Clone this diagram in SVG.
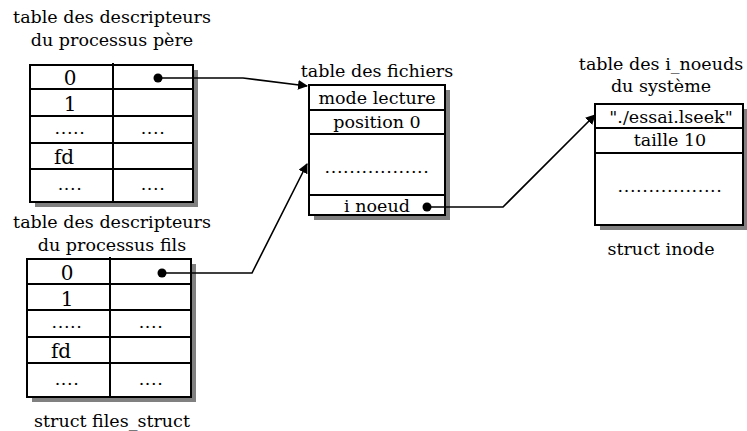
<svg xmlns="http://www.w3.org/2000/svg" width="747" height="431" viewBox="0 0 747 431">
<defs>
<style>
text{font-family:"DejaVu Serif","Liberation Serif",serif;font-size:17.5px;fill:#000;text-anchor:middle}
.c{font-size:20px}
.d{letter-spacing:0.6px}
.box{fill:#fff;stroke:#000;stroke-width:2}
.sh{fill:#808080}
.ln{stroke:#000;stroke-width:2;fill:none}
.conn{stroke:#000;stroke-width:1.6;fill:none}
</style>
<marker id="ah" markerWidth="10" markerHeight="10" refX="9" refY="5" orient="auto" markerUnits="userSpaceOnUse">
<path d="M0,0 L10,5 L0,10 Z" fill="#000"/>
</marker>
</defs>
<g id="pere">
<text x="112" y="23">table des descripteurs</text>
<text x="112" y="46">du processus père</text>
<rect class="sh" x="35" y="70" width="163" height="137"/>
<rect class="box" x="30" y="65" width="163" height="137"/>
<line class="ln" x1="113" y1="63" x2="113" y2="202"/>
<line class="ln" x1="30" y1="89" x2="193" y2="89"/>
<line class="ln" x1="30" y1="116" x2="193" y2="116"/>
<line class="ln" x1="30" y1="143" x2="193" y2="143"/>
<line class="ln" x1="30" y1="169" x2="193" y2="169"/>
<text class="c" x="70" y="85">0</text>
<text class="c" x="70" y="111">1</text>
<text class="d" x="70" y="134">.....</text>
<text class="d" x="153" y="134">....</text>
<text class="c" x="64" y="164">fd</text>
<text class="d" x="70" y="190">....</text>
<text class="d" x="153" y="190">....</text>
</g>
<g id="fils">
<text x="112" y="228">table des descripteurs</text>
<text x="112" y="251">du processus fils</text>
<rect class="sh" x="32" y="264" width="164" height="138"/>
<rect class="box" x="27" y="259" width="164" height="138"/>
<line class="ln" x1="110" y1="257" x2="110" y2="397"/>
<line class="ln" x1="27" y1="284" x2="191" y2="284"/>
<line class="ln" x1="27" y1="310" x2="191" y2="310"/>
<line class="ln" x1="27" y1="337" x2="191" y2="337"/>
<line class="ln" x1="27" y1="363" x2="191" y2="363"/>
<text class="c" x="67" y="280">0</text>
<text class="c" x="67" y="306">1</text>
<text class="d" x="67" y="328">.....</text>
<text class="d" x="151" y="328">....</text>
<text class="c" x="61" y="358">fd</text>
<text class="d" x="67" y="385">....</text>
<text class="d" x="151" y="385">....</text>
<text x="112" y="427">struct files_struct</text>
</g>
<g id="fichiers">
<text x="377" y="77">table des fichiers</text>
<rect class="sh" x="314" y="90" width="136" height="130"/>
<rect class="box" x="309" y="85" width="136" height="130"/>
<line class="ln" x1="309" y1="110" x2="445" y2="110"/>
<line class="ln" x1="309" y1="134" x2="445" y2="134"/>
<line class="ln" x1="309" y1="195" x2="445" y2="195"/>
<text x="377" y="104">mode lecture</text>
<text x="377" y="128">position 0</text>
<text class="d" x="377" y="173">.................</text>
<text x="377" y="212">i noeud</text>
</g>
<g id="inode">
<text x="661" y="70">table des i_noeuds</text>
<text x="661" y="92">du système</text>
<rect class="sh" x="600" y="109" width="148" height="121"/>
<rect class="box" x="595" y="104" width="148" height="121"/>
<line class="ln" x1="595" y1="128" x2="743" y2="128"/>
<line class="ln" x1="595" y1="153" x2="743" y2="153"/>
<text x="671" y="123">"./essai.lseek"</text>
<text x="670" y="146">taille 10</text>
<text class="d" x="670" y="192">.................</text>
<text x="661" y="255">struct inode</text>
</g>
<g id="connectors">
<circle cx="158" cy="78" r="4.5"/>
<polyline class="conn" points="158,78 243,78 307,86" marker-end="url(#ah)"/>
<circle cx="162" cy="273" r="4.5"/>
<polyline class="conn" points="162,273 252,273 307,164" marker-end="url(#ah)"/>
<circle cx="427" cy="207" r="4.5"/>
<polyline class="conn" points="427,207 503,207 595,115" marker-end="url(#ah)"/>
</g>
</svg>
